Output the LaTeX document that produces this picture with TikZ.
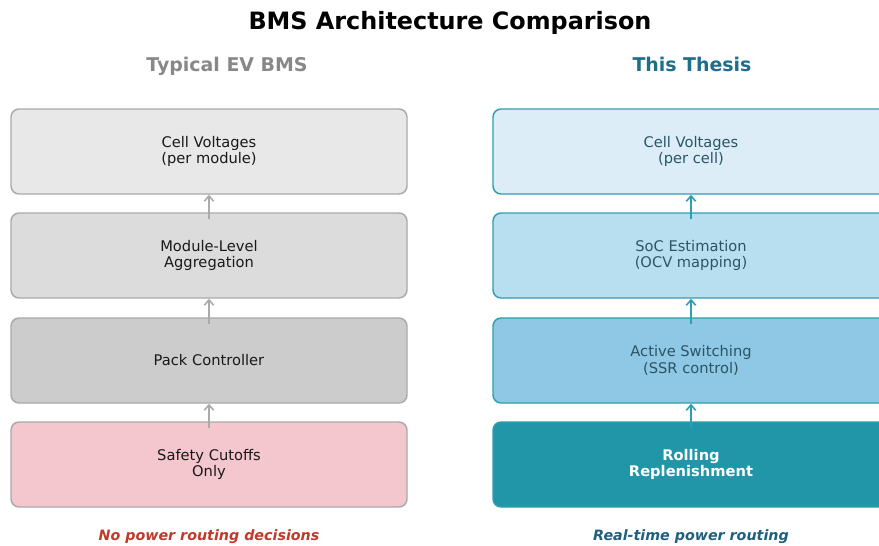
\documentclass[tikz,border=0pt]{standalone}
\usepackage{fontspec}
\setmainfont{DejaVu Sans}
\usetikzlibrary{arrows.meta}
\definecolor{grayedge}{HTML}{AAAAAA}
\definecolor{grayA}{HTML}{E8E8E8}
\definecolor{grayB}{HTML}{DCDCDC}
\definecolor{grayC}{HTML}{CCCCCC}
\definecolor{pinkD}{HTML}{F4C6CD}
\definecolor{tealedge}{HTML}{2E9FB2}
\definecolor{blueA}{HTML}{DCEDF7}
\definecolor{blueB}{HTML}{B8DFEF}
\definecolor{blueC}{HTML}{8FC8E4}
\definecolor{tealD}{HTML}{2196A8}
\definecolor{bluetext}{HTML}{2B5566}
\definecolor{subgray}{HTML}{888888}
\definecolor{subteal}{HTML}{1F6E8C}
\definecolor{notered}{HTML}{C0392B}
\definecolor{noteblue}{HTML}{1F5F7F}
\tikzset{
  layer/.style={draw, rounded corners=6pt, line width=1.1pt, minimum width=297pt,
    minimum height=63.75pt, align=center, font=\fontsize{11}{12.2}\selectfont},
  leftlayer/.style={layer, draw=grayedge, text=black!90},
  rightlayer/.style={layer, draw=tealedge, text=bluetext},
  uparrow/.style={-{Straight Barb[length=4pt,width=7pt,line width=1.2pt]}, line width=1.5pt},
  heading/.style={text height=0.75em, text depth=0.25em, inner sep=0pt},
  note/.style={heading, font=\fontsize{10.7}{12}\selectfont\bfseries\itshape}
}
\begin{document}
\begin{tikzpicture}[x=0.75pt,y=-0.75pt]
\useasboundingbox (0,0) rectangle (879,546);
\fill[white] (0,0) rectangle (879,546);

% headings
\node[heading] (title) at (450,26) {\fontsize{17.9}{20}\selectfont\bfseries BMS Architecture Comparison};
\node[heading, text=subgray] (hleft) at (227,68) {\fontsize{14.2}{16}\selectfont\bfseries Typical EV BMS};
\node[heading, text=subteal] (hright) at (692,68) {\fontsize{14.2}{16}\selectfont\bfseries This Thesis};

% typical EV BMS stack
\node[leftlayer, fill=grayA] (l1) at (209,151.5) {Cell Voltages\\(per module)};
\node[leftlayer, fill=grayB] (l2) at (209,255.5) {Module-Level\\Aggregation};
\node[leftlayer, fill=grayC] (l3) at (209,360.5) {Pack Controller};
\node[leftlayer, fill=pinkD] (l4) at (209,464.5) {Safety Cutoffs\\Only};

% thesis stack
\node[rightlayer, fill=blueA] (r1) at (691,151.5) {Cell Voltages\\(per cell)};
\node[rightlayer, fill=blueB] (r2) at (691,255.5) {SoC Estimation\\(OCV mapping)};
\node[rightlayer, fill=blueC] (r3) at (691,360.5) {Active Switching\\(SSR control)};
\node[rightlayer, fill=tealD, text=white, font=\fontsize{11}{12.2}\selectfont\bfseries] (r4) at (691,464.5) {Rolling\\Replenishment};

% upward flow
\foreach \lo/\hi in {l4/l3, l3/l2, l2/l1}
  \draw[uparrow, draw=grayedge] ([yshift=-5.25pt]\lo.north) -- (\hi.south);
\foreach \lo/\hi in {r4/r3, r3/r2, r2/r1}
  \draw[uparrow, draw=tealedge] ([yshift=-5.25pt]\lo.north) -- (\hi.south);

% captions
\node[note, text=notered] (nleft) at (209,537) {No power routing decisions};
\node[note, text=noteblue] (nright) at (691,537) {Real-time power routing};
\end{tikzpicture}
\end{document}
